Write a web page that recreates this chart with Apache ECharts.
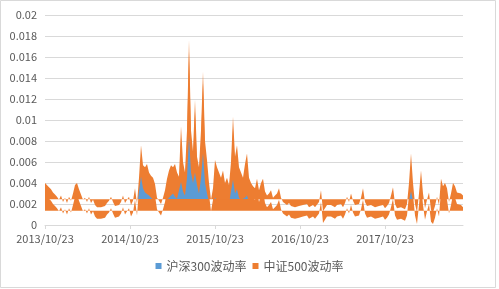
<!DOCTYPE html>
<html>
<head>
<meta charset="utf-8">
<script src="https://cdn.jsdelivr.net/npm/echarts@6/dist/echarts.min.js"></script>
<style>
  html, body { margin: 0; padding: 0; background: #fff; }
  #chart { width: 499px; height: 289px; }
</style>
</head>
<body>
<div id="chart"></div>
<script>
// tick labels on the date axis, one per year
const tickLabels = ['2013/10/23', '2014/10/23', '2015/10/23', '2016/10/23', '2017/10/23']
const samplesPerYear = 42.5

// 中证500波动率, sampled along the x axis
const csi500 = [
  0.0040, 0.0039, 0.0036, 0.0034, 0.0031, 0.0029, 0.0027, 0.0024, 0.0028, 0.0022,
  0.0026, 0.0021, 0.0027, 0.0023, 0.0030, 0.0038, 0.0040, 0.0034, 0.0029, 0.0024,
  0.0026, 0.0022, 0.0027, 0.0021, 0.0024, 0.0019, 0.0017, 0.0016, 0.0017, 0.0016,
  0.0018, 0.0021, 0.0023, 0.0027, 0.0022, 0.0018, 0.0017, 0.0019, 0.0022, 0.0028,
  0.0021, 0.0024, 0.0027, 0.0019, 0.0023, 0.0035, 0.0020, 0.0045, 0.0076, 0.0057,
  0.0055, 0.0058, 0.0050, 0.0047, 0.0045, 0.0039, 0.0026, 0.0023, 0.0020, 0.0026,
  0.0033, 0.0044, 0.0052, 0.0057, 0.0055, 0.0058, 0.0050, 0.0046, 0.0094, 0.0060,
  0.0050, 0.0090, 0.0176, 0.0090, 0.0070, 0.0119, 0.0065, 0.0055, 0.0090, 0.0146,
  0.0080, 0.0062, 0.0040, 0.0024, 0.0035, 0.0062, 0.0055, 0.0050, 0.0045, 0.0052,
  0.0040, 0.0045, 0.0038, 0.0060, 0.0103, 0.0065, 0.0076, 0.0055, 0.0050, 0.0045,
  0.0058, 0.0068, 0.0045, 0.0040, 0.0037, 0.0035, 0.0044, 0.0033, 0.0040, 0.0044,
  0.0032, 0.0028, 0.0030, 0.0033, 0.0026, 0.0028, 0.0030, 0.0035, 0.0026, 0.0022,
  0.0023, 0.0019, 0.0021, 0.0018, 0.0019, 0.0017, 0.0016, 0.0018, 0.0017, 0.0019,
  0.0018, 0.0020, 0.0017, 0.0018, 0.0019, 0.0017, 0.0018, 0.0022, 0.0033, 0.0013,
  0.0016, 0.0019, 0.0018, 0.0019, 0.0018, 0.0017, 0.0019, 0.0018, 0.0020, 0.0017,
  0.0021, 0.0027, 0.0022, 0.0030, 0.0023, 0.0019, 0.0018, 0.0020, 0.0026, 0.0035,
  0.0022, 0.0018, 0.0017, 0.0019, 0.0018, 0.0017, 0.0016, 0.0018, 0.0017, 0.0019,
  0.0016, 0.0018, 0.0021, 0.0028, 0.0036, 0.0020, 0.0016, 0.0015, 0.0017, 0.0016,
  0.0015, 0.0020, 0.0040, 0.0068, 0.0040, 0.0020, 0.0012, 0.0030, 0.0052, 0.0030,
  0.0016, 0.0024, 0.0031, 0.0014, 0.0012, 0.0018, 0.0027, 0.0019, 0.0044, 0.0037,
  0.0040, 0.0035, 0.0022, 0.0030, 0.0040, 0.0037, 0.0031, 0.0030, 0.0030, 0.0028
]

// 沪深300波动率
const hs300 = [
  0.0022, 0.0021, 0.0020, 0.0019, 0.0018, 0.0018, 0.0017, 0.0016, 0.0018, 0.0015,
  0.0017, 0.0015, 0.0018, 0.0016, 0.0019, 0.0022, 0.0023, 0.0020, 0.0018, 0.0016,
  0.0017, 0.0015, 0.0017, 0.0014, 0.0016, 0.0013, 0.0012, 0.0012, 0.0012, 0.0011,
  0.0012, 0.0014, 0.0015, 0.0017, 0.0015, 0.0013, 0.0012, 0.0013, 0.0015, 0.0018,
  0.0015, 0.0016, 0.0018, 0.0014, 0.0016, 0.0022, 0.0015, 0.0032, 0.0046, 0.0035,
  0.0031, 0.0030, 0.0028, 0.0027, 0.0024, 0.0022, 0.0018, 0.0017, 0.0015, 0.0018,
  0.0021, 0.0024, 0.0026, 0.0028, 0.0030, 0.0027, 0.0025, 0.0024, 0.0041, 0.0032,
  0.0028, 0.0045, 0.0084, 0.0050, 0.0040, 0.0050, 0.0038, 0.0030, 0.0045, 0.0068,
  0.0040, 0.0030, 0.0022, 0.0016, 0.0020, 0.0026, 0.0024, 0.0022, 0.0021, 0.0023,
  0.0020, 0.0021, 0.0020, 0.0032, 0.0043, 0.0030, 0.0034, 0.0026, 0.0024, 0.0023,
  0.0026, 0.0028, 0.0022, 0.0020, 0.0019, 0.0018, 0.0022, 0.0018, 0.0020, 0.0022,
  0.0017, 0.0015, 0.0016, 0.0017, 0.0014, 0.0015, 0.0016, 0.0018, 0.0014, 0.0012,
  0.0013, 0.0011, 0.0012, 0.0011, 0.0011, 0.0010, 0.0010, 0.0011, 0.0010, 0.0011,
  0.0010, 0.0012, 0.0010, 0.0011, 0.0011, 0.0010, 0.0011, 0.0013, 0.0019, 0.0009,
  0.0010, 0.0011, 0.0011, 0.0011, 0.0010, 0.0010, 0.0011, 0.0010, 0.0012, 0.0010,
  0.0012, 0.0015, 0.0013, 0.0017, 0.0013, 0.0011, 0.0010, 0.0012, 0.0015, 0.0020,
  0.0013, 0.0011, 0.0010, 0.0011, 0.0010, 0.0010, 0.0009, 0.0010, 0.0010, 0.0011,
  0.0009, 0.0010, 0.0012, 0.0016, 0.0021, 0.0012, 0.0009, 0.0009, 0.0010, 0.0009,
  0.0009, 0.0012, 0.0023, 0.0032, 0.0023, 0.0012, 0.0008, 0.0017, 0.0022, 0.0017,
  0.0010, 0.0014, 0.0018, 0.0009, 0.0008, 0.0011, 0.0016, 0.0012, 0.0023, 0.0020,
  0.0022, 0.0019, 0.0013, 0.0017, 0.0022, 0.0020, 0.0018, 0.0017, 0.0017, 0.0016
]

const toPoints = (arr) => arr.map((v, i) => [i, v])

const fontCn = '"Noto Sans CJK SC", "Noto Sans", sans-serif'
const textColor = '#595959'
const baseLine = 0.00245   // where the filled areas start from
const bandShift = 0.0011   // the second orange band sits this much lower

const chart = echarts.init(document.getElementById('chart'), null, { renderer: 'canvas' })

const option = {
  animation: false,
  backgroundColor: '#fff',
  textStyle: { fontFamily: fontCn },
  graphic: [{
    type: 'rect',
    shape: { x: 0.5, y: 0.5, width: 495, height: 287 },
    style: { fill: 'none', stroke: '#d9d9d9', lineWidth: 1 },
    silent: true,
    z: -10
  }],
  grid: { left: 45, top: 15, width: 418, height: 210, containLabel: false },
  legend: {
    data: ['沪深300波动率', '中证500波动率'],
    bottom: 12,
    left: 'center',
    icon: 'rect',
    itemWidth: 6,
    itemHeight: 6,
    itemGap: 6,
    textStyle: { color: textColor, fontSize: 12, fontFamily: fontCn }
  },
  // blue only shows where it rises above the base line
  visualMap: {
    show: false,
    type: 'piecewise',
    seriesIndex: 2,
    dimension: 1,
    pieces: [
      { gte: -1, lt: baseLine, color: 'rgba(91,155,213,0)' },
      { gte: baseLine, lte: 1, color: '#5b9bd5' }
    ]
  },
  xAxis: {
    type: 'value',
    min: 0,
    max: csi500.length - 1,
    interval: samplesPerYear,
    splitLine: { show: false },
    axisLine: { show: true, lineStyle: { color: '#d9d9d9' } },
    axisTick: { show: true, length: 4, lineStyle: { color: '#d9d9d9' } },
    axisLabel: {
      color: textColor,
      fontSize: 11,
      margin: 8,
      showMaxLabel: false,
      formatter: (val) => {
        const k = Math.round(val / samplesPerYear)
        return Math.abs(k * samplesPerYear - val) < 0.01 && tickLabels[k] ? tickLabels[k] : ''
      }
    }
  },
  yAxis: [{
    type: 'value',
    min: 0,
    max: 0.02,
    interval: 0.002,
    axisLine: { show: false },
    axisTick: { show: false },
    splitLine: { lineStyle: { color: '#d9d9d9' } },
    axisLabel: { color: textColor, fontSize: 11, margin: 8 }
  }, {
    type: 'value',
    min: bandShift,
    max: 0.02 + bandShift,
    show: false,
    splitLine: { show: false }
  }],
  series: [{
    name: 'band',
    type: 'line',
    yAxisIndex: 1,
    data: toPoints(csi500),
    showSymbol: false,
    lineStyle: { width: 0 },
    itemStyle: { color: '#ed7d31' },
    areaStyle: { color: '#ed7d31', opacity: 1, origin: baseLine },
    silent: true
  }, {
    name: '中证500波动率',
    type: 'line',
    data: toPoints(csi500),
    showSymbol: false,
    lineStyle: { width: 0 },
    itemStyle: { color: '#ed7d31' },
    areaStyle: { color: '#ed7d31', opacity: 1, origin: baseLine }
  }, {
    name: '沪深300波动率',
    type: 'line',
    data: toPoints(hs300),
    showSymbol: false,
    lineStyle: { width: 0 },
    itemStyle: { color: '#5b9bd5' },
    areaStyle: { opacity: 1, origin: baseLine }
  }]
}

chart.setOption(option)
</script>
</body>
</html>
